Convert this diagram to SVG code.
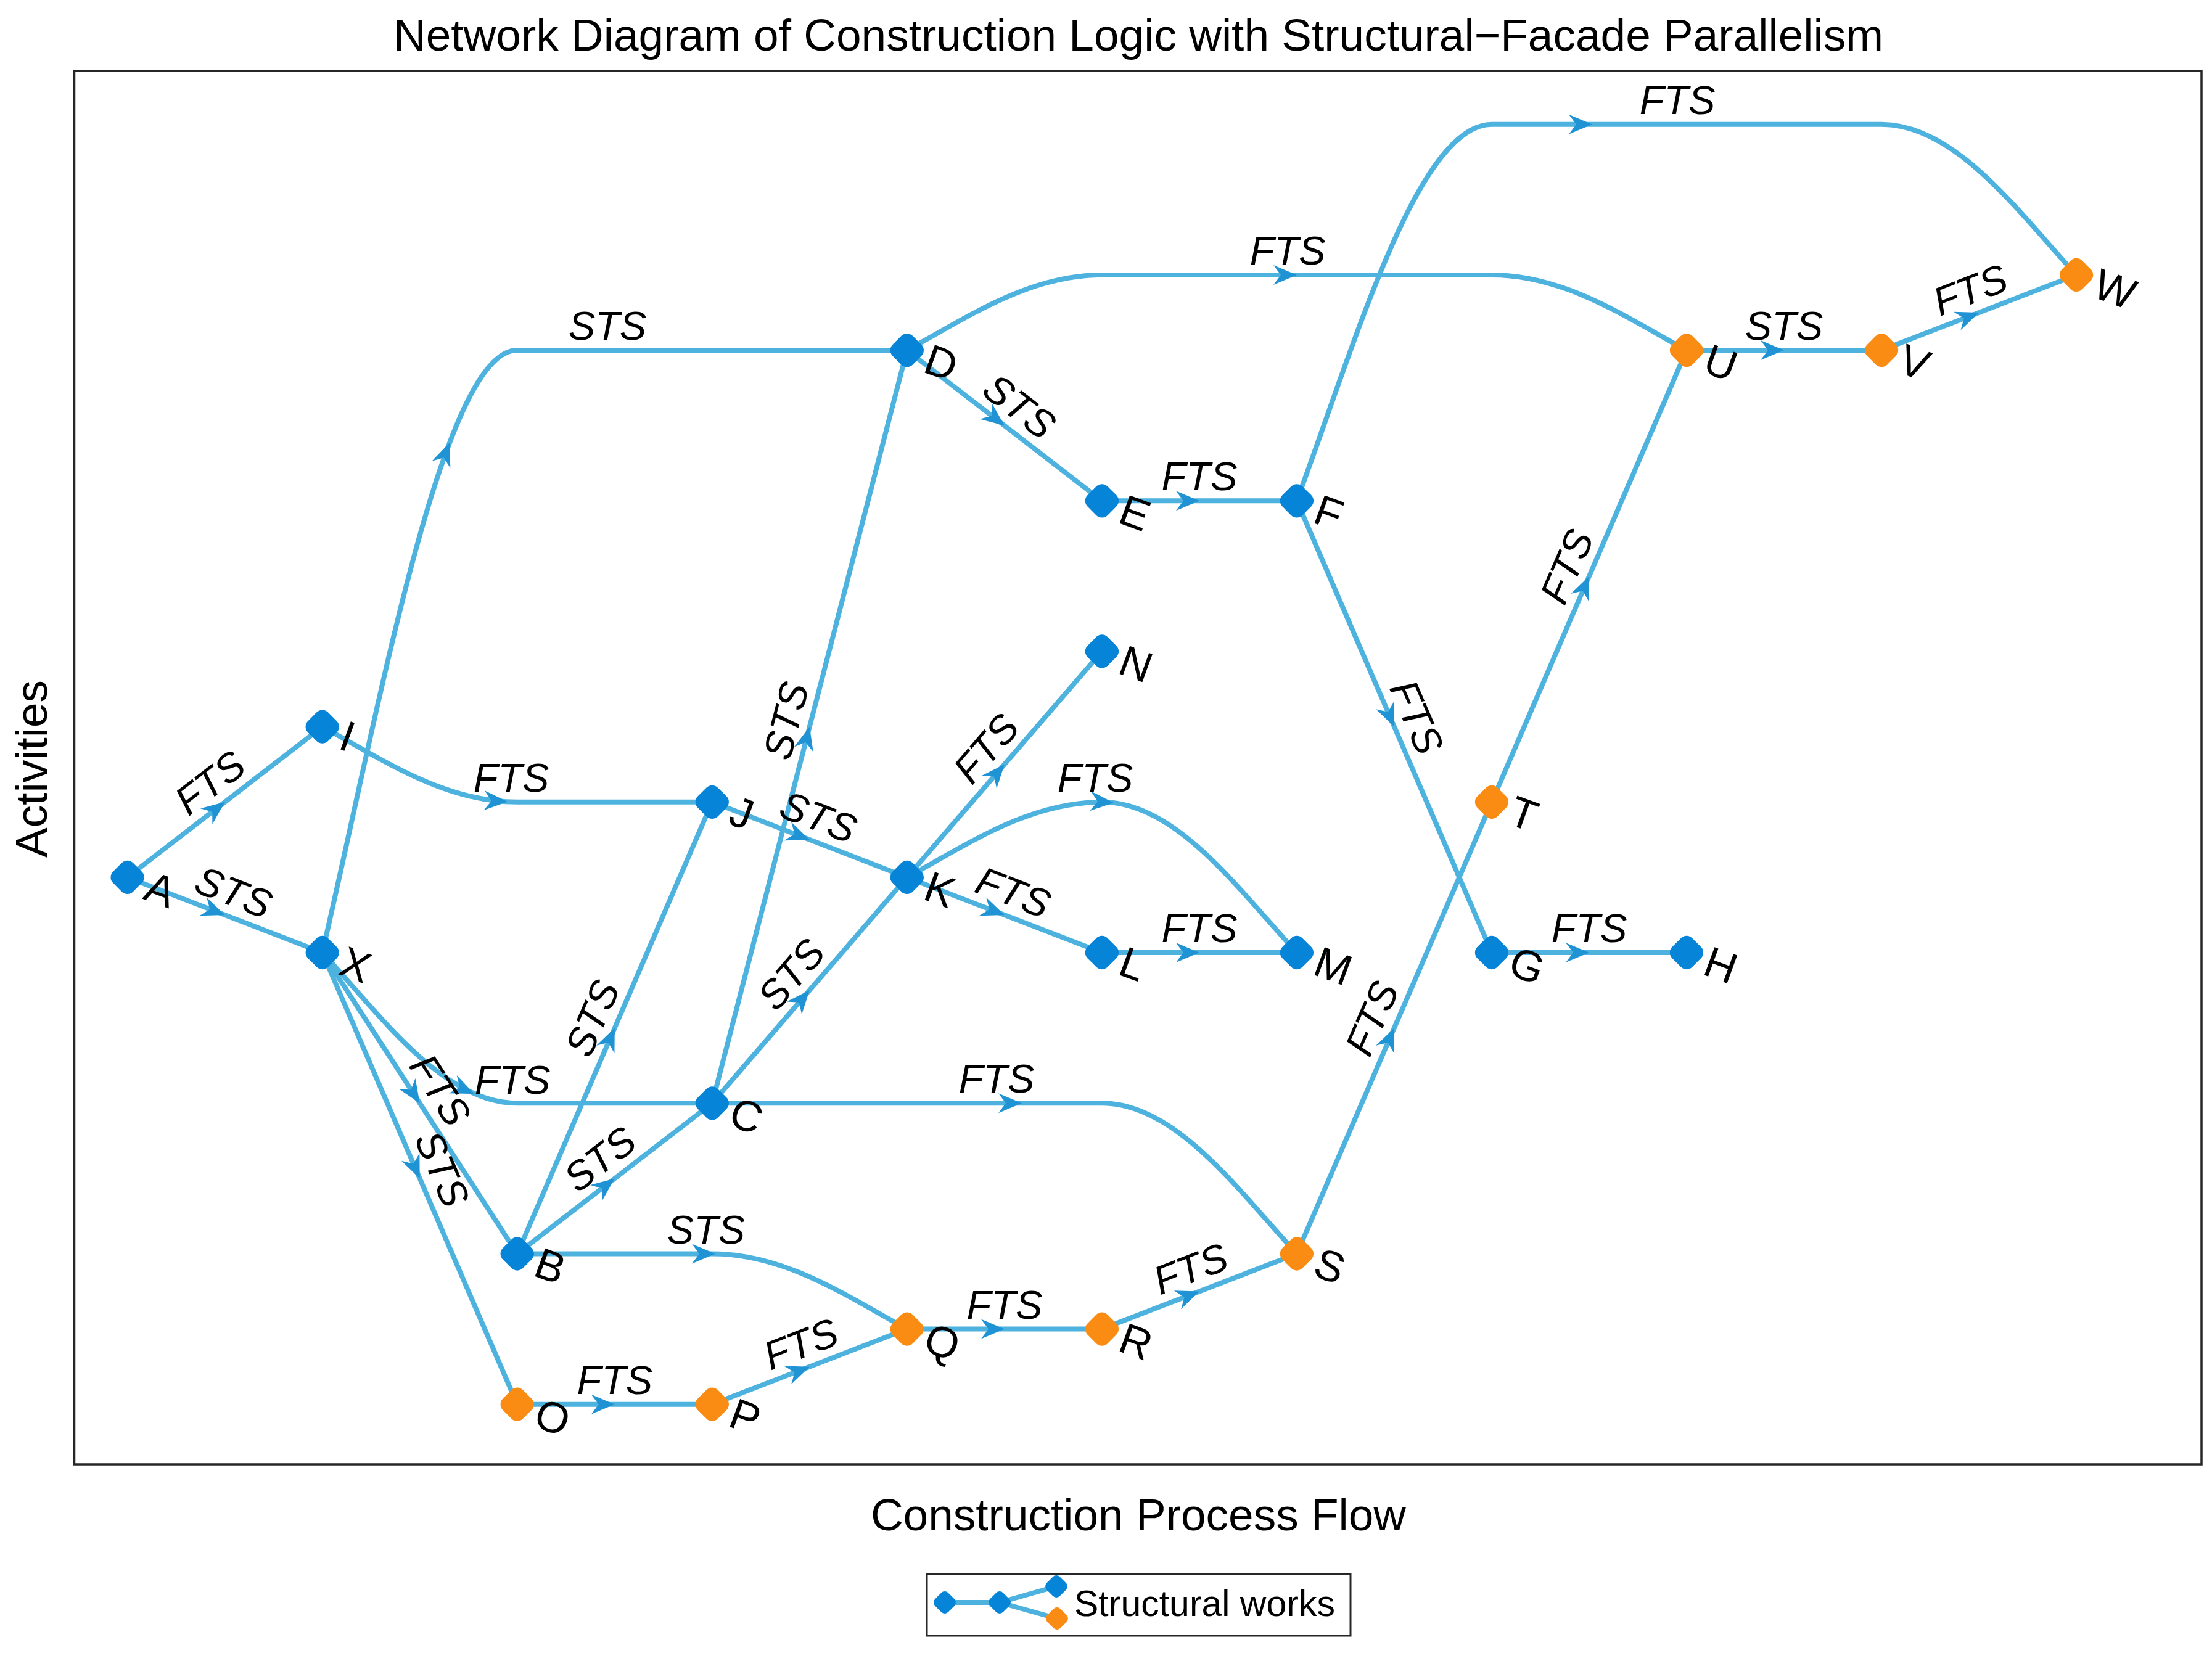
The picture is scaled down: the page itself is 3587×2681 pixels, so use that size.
<svg xmlns="http://www.w3.org/2000/svg" xmlns:xlink="http://www.w3.org/1999/xlink" width="3587" height="2681" viewBox="0 0 3587 2681">
<style>
.e{fill:none;stroke:#4DB2DE;stroke-width:8;stroke-linecap:round;stroke-linejoin:round}
.a{fill:#1F93D4}
.nb{fill:#0684D8}
.no{fill:#FA8C14}
.el{font-family:"Liberation Sans",Arial,sans-serif;font-size:65px;font-style:italic;fill:#000;text-anchor:middle}
.nl{font-family:"Liberation Sans",Arial,sans-serif;font-size:70px;fill:#000}
.ax{font-family:"Liberation Sans",Arial,sans-serif;font-size:73px;fill:#000;text-anchor:middle}
</style>
<defs>
<rect id="mk" x="-23" y="-23" width="46" height="46" rx="13" transform="rotate(45)"/>
<rect id="mks" x="-15" y="-15" width="30" height="30" rx="8" transform="rotate(45)"/>
<path id="arr" d="M0,0 L-38,-16 L-26,0 L-38,16 Z"/>
</defs>
<rect width="3587" height="2681" fill="#fff"/>
<text class="ax" x="1846" y="82">Network Diagram of Construction Logic with Structural−Facade Parallelism</text>
<rect x="120.5" y="115" width="3449.5" height="2260" fill="#fff" stroke="#262626" stroke-width="3.5"/>
<text class="ax" x="1846" y="2482">Construction Process Flow</text>
<text class="ax" transform="translate(76,1247) rotate(-90)">Activities</text>

<g id="connectors">
<path class="e" d="M206.6,1422.9 L522.7,1178.7"/>
<path class="e" d="M206.6,1422.9 L522.7,1545"/>
<path class="e" d="M522.7,1178.7 C617.5,1230 718.6,1300.8 838.7,1300.8 L1154.8,1300.8"/>
<path class="e" d="M522.7,1545 C617.5,1134.7 718.6,568.1 838.7,568.1 L1470.8,568.1"/>
<path class="e" d="M522.7,1545 C617.5,1647.6 718.6,1789.3 838.7,1789.3 L1154.8,1789.3"/>
<path class="e" d="M522.7,1545 L838.7,2033.5"/>
<path class="e" d="M522.7,1545 L838.7,2277.7"/>
<path class="e" d="M838.7,2033.5 L1154.8,1300.8"/>
<path class="e" d="M838.7,2033.5 L1154.8,1789.3"/>
<path class="e" d="M838.7,2033.5 L1154.8,2033.5 C1274.9,2033.5 1376,2104.3 1470.8,2155.6"/>
<path class="e" d="M1154.8,1789.3 L1470.8,568.1"/>
<path class="e" d="M1154.8,1789.3 L1470.8,1422.9"/>
<path class="e" d="M1154.8,1789.3 L1786.9,1789.3 C1907,1789.3 2008.1,1931 2102.9,2033.5"/>
<path class="e" d="M1154.8,1300.8 L1470.8,1422.9"/>
<path class="e" d="M1470.8,1422.9 L1786.9,1056.5"/>
<path class="e" d="M1470.8,1422.9 C1565.6,1371.6 1666.8,1300.8 1786.9,1300.8 C1907,1300.8 2008.1,1442.4 2102.9,1545"/>
<path class="e" d="M1470.8,1422.9 L1786.9,1545"/>
<path class="e" d="M1786.9,1545 L2102.9,1545"/>
<path class="e" d="M838.7,2277.7 L1154.8,2277.7"/>
<path class="e" d="M1154.8,2277.7 L1470.8,2155.6"/>
<path class="e" d="M1470.8,2155.6 L1786.9,2155.6"/>
<path class="e" d="M1786.9,2155.6 L2102.9,2033.5"/>
<path class="e" d="M2102.9,2033.5 L2419,1300.8"/>
<path class="e" d="M1470.8,568.1 L1786.9,812.3"/>
<path class="e" d="M1470.8,568.1 C1565.6,516.8 1666.8,445.9 1786.9,445.9 L2419,445.9 C2539.1,445.9 2640.2,516.8 2735,568.1"/>
<path class="e" d="M1786.9,812.3 L2102.9,812.3"/>
<path class="e" d="M2102.9,812.3 C2197.7,555.8 2298.9,201.7 2419,201.7 L3051.1,201.7 C3171.2,201.7 3272.3,343.3 3367.1,445.9"/>
<path class="e" d="M2102.9,812.3 L2419,1545"/>
<path class="e" d="M2419,1545 L2735,1545"/>
<path class="e" d="M2419,1300.8 L2735,568.1"/>
<path class="e" d="M2735,568.1 L3051.1,568.1"/>
<path class="e" d="M3051.1,568.1 L3367.1,445.9"/>

<g class="a">
<use xlink:href="#arr" transform="translate(364.7,1300.8) rotate(-37.69)"/>
<use xlink:href="#arr" transform="translate(364.7,1484) rotate(21.12)"/>
<use xlink:href="#arr" transform="translate(823,1300.3) rotate(3)"/>
<use xlink:href="#arr" transform="translate(729,718) rotate(-69)"/>
<use xlink:href="#arr" transform="translate(769,1774) rotate(24)"/>
<use xlink:href="#arr" transform="translate(680.7,1789.3) rotate(57.1)"/>
<use xlink:href="#arr" transform="translate(680.7,1911.4) rotate(66.67)"/>
<use xlink:href="#arr" transform="translate(996.8,1667.2) rotate(-66.67)"/>
<use xlink:href="#arr" transform="translate(996.8,1911.4) rotate(-37.69)"/>
<use xlink:href="#arr" transform="translate(1160,2033.5)"/>
<use xlink:href="#arr" transform="translate(1312.8,1178.7) rotate(-75.49)"/>
<use xlink:href="#arr" transform="translate(1312.8,1606.1) rotate(-49.23)"/>
<use xlink:href="#arr" transform="translate(1657,1789.3)"/>
<use xlink:href="#arr" transform="translate(1312.8,1361.9) rotate(21.12)"/>
<use xlink:href="#arr" transform="translate(1628.9,1239.7) rotate(-49.21)"/>
<use xlink:href="#arr" transform="translate(1806,1302) rotate(4)"/>
<use xlink:href="#arr" transform="translate(1628.9,1484) rotate(21.12)"/>
<use xlink:href="#arr" transform="translate(1944.9,1545)"/>
<use xlink:href="#arr" transform="translate(996.8,2277.7)"/>
<use xlink:href="#arr" transform="translate(1312.8,2216.7) rotate(-21.12)"/>
<use xlink:href="#arr" transform="translate(1628.9,2155.6)"/>
<use xlink:href="#arr" transform="translate(1944.9,2094.6) rotate(-21.12)"/>
<use xlink:href="#arr" transform="translate(2261,1667.2) rotate(-66.67)"/>
<use xlink:href="#arr" transform="translate(1628.9,690.2) rotate(37.69)"/>
<use xlink:href="#arr" transform="translate(2103,445.9)"/>
<use xlink:href="#arr" transform="translate(1944.9,812.3)"/>
<use xlink:href="#arr" transform="translate(2582,201.7)"/>
<use xlink:href="#arr" transform="translate(2261,1178.7) rotate(66.67)"/>
<use xlink:href="#arr" transform="translate(2577,1545)"/>
<use xlink:href="#arr" transform="translate(2577,934.5) rotate(-66.67)"/>
<use xlink:href="#arr" transform="translate(2893,568.1)"/>
<use xlink:href="#arr" transform="translate(3209.1,507) rotate(-21.12)"/>
</g>

<g class="el">
<text transform="translate(364.7,1300.8) rotate(-37.69)" y="-17">FTS</text>
<text transform="translate(364.7,1484) rotate(21.12)" y="-17">STS</text>
<text transform="translate(829,1300.8)" y="-17">FTS</text>
<text transform="translate(985,568.1)" y="-17">STS</text>
<text transform="translate(831,1789.3)" y="-15">FTS</text>
<text transform="translate(680.7,1789.3) rotate(57.1)" y="-17">FTS</text>
<text transform="translate(680.7,1911.4) rotate(66.67)" y="-17">STS</text>
<text transform="translate(996.8,1667.2) rotate(-66.67)" y="-17">STS</text>
<text transform="translate(996.8,1911.4) rotate(-37.69)" y="-17">STS</text>
<text transform="translate(1145,2033.5)" y="-17">STS</text>
<text transform="translate(1312.8,1178.7) rotate(-75.49)" y="-17">STS</text>
<text transform="translate(1312.8,1606.1) rotate(-49.23)" y="-17">STS</text>
<text transform="translate(1616,1789.3)" y="-17">FTS</text>
<text transform="translate(1312.8,1361.9) rotate(21.12)" y="-17">STS</text>
<text transform="translate(1628.9,1239.7) rotate(-49.21)" y="-17">FTS</text>
<text transform="translate(1776,1300.8)" y="-17">FTS</text>
<text transform="translate(1628.9,1484) rotate(21.12)" y="-17">FTS</text>
<text transform="translate(1944.9,1545)" y="-17">FTS</text>
<text transform="translate(996.8,2277.7)" y="-17">FTS</text>
<text transform="translate(1312.8,2216.7) rotate(-21.12)" y="-17">FTS</text>
<text transform="translate(1628.9,2155.6)" y="-17">FTS</text>
<text transform="translate(1944.9,2094.6) rotate(-21.12)" y="-17">FTS</text>
<text transform="translate(2261,1667.2) rotate(-66.67)" y="-17">FTS</text>
<text transform="translate(1628.9,690.2) rotate(37.69)" y="-17">STS</text>
<text transform="translate(2088,445.9)" y="-17">FTS</text>
<text transform="translate(1944.9,812.3)" y="-17">FTS</text>
<text transform="translate(2720,201.7)" y="-17">FTS</text>
<text transform="translate(2261,1178.7) rotate(66.67)" y="-17">FTS</text>
<text transform="translate(2577,1545)" y="-17">FTS</text>
<text transform="translate(2577,934.5) rotate(-66.67)" y="-17">FTS</text>
<text transform="translate(2893,568.1)" y="-17">STS</text>
<text transform="translate(3209.1,507) rotate(-21.12)" y="-17">FTS</text>
</g>
</g>

<g id="node-A"><use xlink:href="#mk" class="nb" x="206.6" y="1422.9"/><text class="nl" transform="translate(238.6,1433.9) rotate(20)" y="25">A</text></g>
<g id="node-I"><use xlink:href="#mk" class="nb" x="522.7" y="1178.7"/><text class="nl" transform="translate(554.7,1189.7) rotate(20)" y="25">I</text></g>
<g id="node-X"><use xlink:href="#mk" class="nb" x="522.7" y="1545"/><text class="nl" transform="translate(554.7,1556) rotate(20)" y="25">X</text></g>
<g id="node-B"><use xlink:href="#mk" class="nb" x="838.7" y="2033.5"/><text class="nl" transform="translate(870.7,2044.5) rotate(20)" y="25">B</text></g>
<g id="node-O"><use xlink:href="#mk" class="no" x="838.7" y="2277.7"/><text class="nl" transform="translate(870.7,2288.7) rotate(20)" y="25">O</text></g>
<g id="node-J"><use xlink:href="#mk" class="nb" x="1154.8" y="1300.8"/><text class="nl" transform="translate(1186.8,1311.8) rotate(20)" y="25">J</text></g>
<g id="node-C"><use xlink:href="#mk" class="nb" x="1154.8" y="1789.3"/><text class="nl" transform="translate(1186.8,1800.3) rotate(20)" y="25">C</text></g>
<g id="node-P"><use xlink:href="#mk" class="no" x="1154.8" y="2277.7"/><text class="nl" transform="translate(1186.8,2288.7) rotate(20)" y="25">P</text></g>
<g id="node-K"><use xlink:href="#mk" class="nb" x="1470.8" y="1422.9"/><text class="nl" transform="translate(1502.8,1433.9) rotate(20)" y="25">K</text></g>
<g id="node-D"><use xlink:href="#mk" class="nb" x="1470.8" y="568.1"/><text class="nl" transform="translate(1502.8,579.1) rotate(20)" y="25">D</text></g>
<g id="node-Q"><use xlink:href="#mk" class="no" x="1470.8" y="2155.6"/><text class="nl" transform="translate(1502.8,2166.6) rotate(20)" y="25">Q</text></g>
<g id="node-E"><use xlink:href="#mk" class="nb" x="1786.9" y="812.3"/><text class="nl" transform="translate(1818.9,823.3) rotate(20)" y="25">E</text></g>
<g id="node-N"><use xlink:href="#mk" class="nb" x="1786.9" y="1056.5"/><text class="nl" transform="translate(1818.9,1067.5) rotate(20)" y="25">N</text></g>
<g id="node-L"><use xlink:href="#mk" class="nb" x="1786.9" y="1545"/><text class="nl" transform="translate(1818.9,1556) rotate(20)" y="25">L</text></g>
<g id="node-R"><use xlink:href="#mk" class="no" x="1786.9" y="2155.6"/><text class="nl" transform="translate(1818.9,2166.6) rotate(20)" y="25">R</text></g>
<g id="node-F"><use xlink:href="#mk" class="nb" x="2102.9" y="812.3"/><text class="nl" transform="translate(2134.9,823.3) rotate(20)" y="25">F</text></g>
<g id="node-M"><use xlink:href="#mk" class="nb" x="2102.9" y="1545"/><text class="nl" transform="translate(2134.9,1556) rotate(20)" y="25">M</text></g>
<g id="node-S"><use xlink:href="#mk" class="no" x="2102.9" y="2033.5"/><text class="nl" transform="translate(2134.9,2044.5) rotate(20)" y="25">S</text></g>
<g id="node-G"><use xlink:href="#mk" class="nb" x="2419" y="1545"/><text class="nl" transform="translate(2451,1556) rotate(20)" y="25">G</text></g>
<g id="node-T"><use xlink:href="#mk" class="no" x="2419" y="1300.8"/><text class="nl" transform="translate(2451,1311.8) rotate(20)" y="25">T</text></g>
<g id="node-H"><use xlink:href="#mk" class="nb" x="2735" y="1545"/><text class="nl" transform="translate(2767,1556) rotate(20)" y="25">H</text></g>
<g id="node-U"><use xlink:href="#mk" class="no" x="2735" y="568.1"/><text class="nl" transform="translate(2767,579.1) rotate(20)" y="25">U</text></g>
<g id="node-V"><use xlink:href="#mk" class="no" x="3051.1" y="568.1"/><text class="nl" transform="translate(3083.1,579.1) rotate(20)" y="25">V</text></g>
<g id="node-W"><use xlink:href="#mk" class="no" x="3367.1" y="445.9"/><text class="nl" transform="translate(3399.1,456.9) rotate(20)" y="25">W</text></g>

<g id="legend">
<rect x="1503" y="2553" width="687" height="100" fill="#fff" stroke="#262626" stroke-width="3"/>
<path class="e" d="M1532,2599 L1621,2599 L1713,2573 M1621,2599 L1714,2625"/>
<use xlink:href="#mks" class="nb" x="1532" y="2599"/>
<use xlink:href="#mks" class="nb" x="1621" y="2599"/>
<use xlink:href="#mks" class="nb" x="1713" y="2573"/>
<use xlink:href="#mks" class="no" x="1714" y="2625"/>
<text x="1742" y="2621" font-family="Liberation Sans, Arial, sans-serif" font-size="59">Structural works</text>
</g>
</svg>
